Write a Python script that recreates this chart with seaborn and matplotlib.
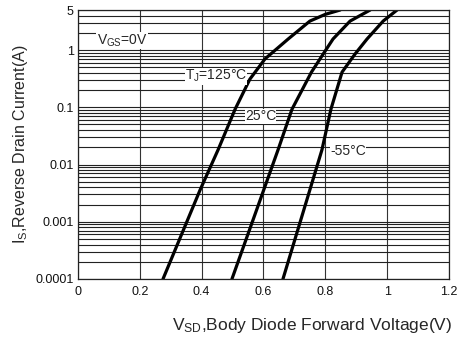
import numpy as np
import pandas as pd
import matplotlib
matplotlib.use("Agg")
import matplotlib.pyplot as plt
import matplotlib.ticker as mticker
import seaborn as sns

# Curves (V_SD in volts, I_S in amps)
v_125 = [0.275, 0.395, 0.453, 0.508, 0.556, 0.605, 0.68, 0.75, 0.80, 0.848]
i_125 = [0.0001, 0.0036, 0.018, 0.092, 0.31, 0.70, 1.56, 3.2, 4.2, 5.0]
v_25 = [0.498, 0.647, 0.692, 0.755, 0.793, 0.825, 0.88, 0.945]
i_25 = [0.0001, 0.018, 0.092, 0.41, 0.85, 1.56, 3.2, 5.0]
v_m55 = [0.663, 0.789, 0.818, 0.854, 0.896, 0.935, 0.987, 1.032]
i_m55 = [0.0001, 0.018, 0.092, 0.41, 0.85, 1.56, 3.2, 5.0]

x_ticks = [0, 0.2, 0.4, 0.6, 0.8, 1, 1.2]
x_labels = ["0", "0.2", "0.4", "0.6", "0.8", "1", "1.2"]
y_ticks = [0.0001, 0.001, 0.01, 0.1, 1, 5]
y_labels = ["0.0001", "0.001", "0.01", "0.1", "1", "5"]

df = pd.concat([
    pd.DataFrame({"v": v_125, "i": i_125, "temp": "125"}),
    pd.DataFrame({"v": v_25, "i": i_25, "temp": "25"}),
    pd.DataFrame({"v": v_m55, "i": i_m55, "temp": "-55"}),
])

sns.set_style("white")
plt.rcParams["font.family"] = ["Liberation Sans", "DejaVu Sans"]
plt.rcParams["mathtext.fontset"] = "custom"
plt.rcParams["mathtext.rm"] = "Liberation Sans"
plt.rcParams["mathtext.it"] = "Liberation Sans"

fig = plt.figure(figsize=(4.65, 3.38), dpi=100)
ax = fig.add_axes([0.1677, 0.1746, 0.7979, 0.7958])

sns.lineplot(data=df, x="v", y="i", units="temp", estimator=None, sort=False,
             color="black", linewidth=2.3, ax=ax)

ax.set_yscale("log")
ax.set_xlim(0, 1.2)
ax.set_ylim(0.0001, 5)

# grid: every log minor step horizontally, 0.2 V vertically
ax.yaxis.set_minor_locator(mticker.LogLocator(base=10, subs=np.arange(2, 10)))
ax.yaxis.set_minor_formatter(mticker.NullFormatter())
ax.set_yticks(y_ticks)
ax.set_yticklabels(y_labels)
ax.set_xticks(x_ticks)
ax.set_xticklabels(x_labels)
ax.grid(True, which="both", axis="y", color="#222222", linewidth=0.8)
ax.grid(True, which="major", axis="x", color="#333333", linewidth=0.8)
ax.tick_params(which="both", length=0, labelsize=9, pad=3, colors="#111111")
ax.tick_params(axis="x", pad=5)
for s in ax.spines.values():
    s.set_color("#222222")
    s.set_linewidth(0.9)

ax.set_xlabel(r"V$_{\mathrm{SD}}$,Body Diode Forward Voltage(V)", fontsize=12.5)
ax.xaxis.set_label_coords(0.63, -0.137)
ax.set_ylabel(r"I$_{\mathrm{S}}$,Reverse Drain Current(A)", fontsize=11.5, labelpad=4)

box = dict(facecolor="white", edgecolor="none", pad=0.2)
ax.text(0.06, 1.44, r"V$_{\mathrm{GS}}$=0V", fontsize=10, va="center", ha="left", bbox=box)
ax.text(0.346, 0.35, r"T$_{\mathrm{J}}$=125°C", fontsize=10, va="center", ha="left", bbox=box)
ax.text(0.54, 0.0695, "25°C", fontsize=10, va="center", ha="left", bbox=box)
ax.text(0.815, 0.0169, "-55°C", fontsize=10, va="center", ha="left", bbox=box)

fig.savefig("out.png", dpi=100)
